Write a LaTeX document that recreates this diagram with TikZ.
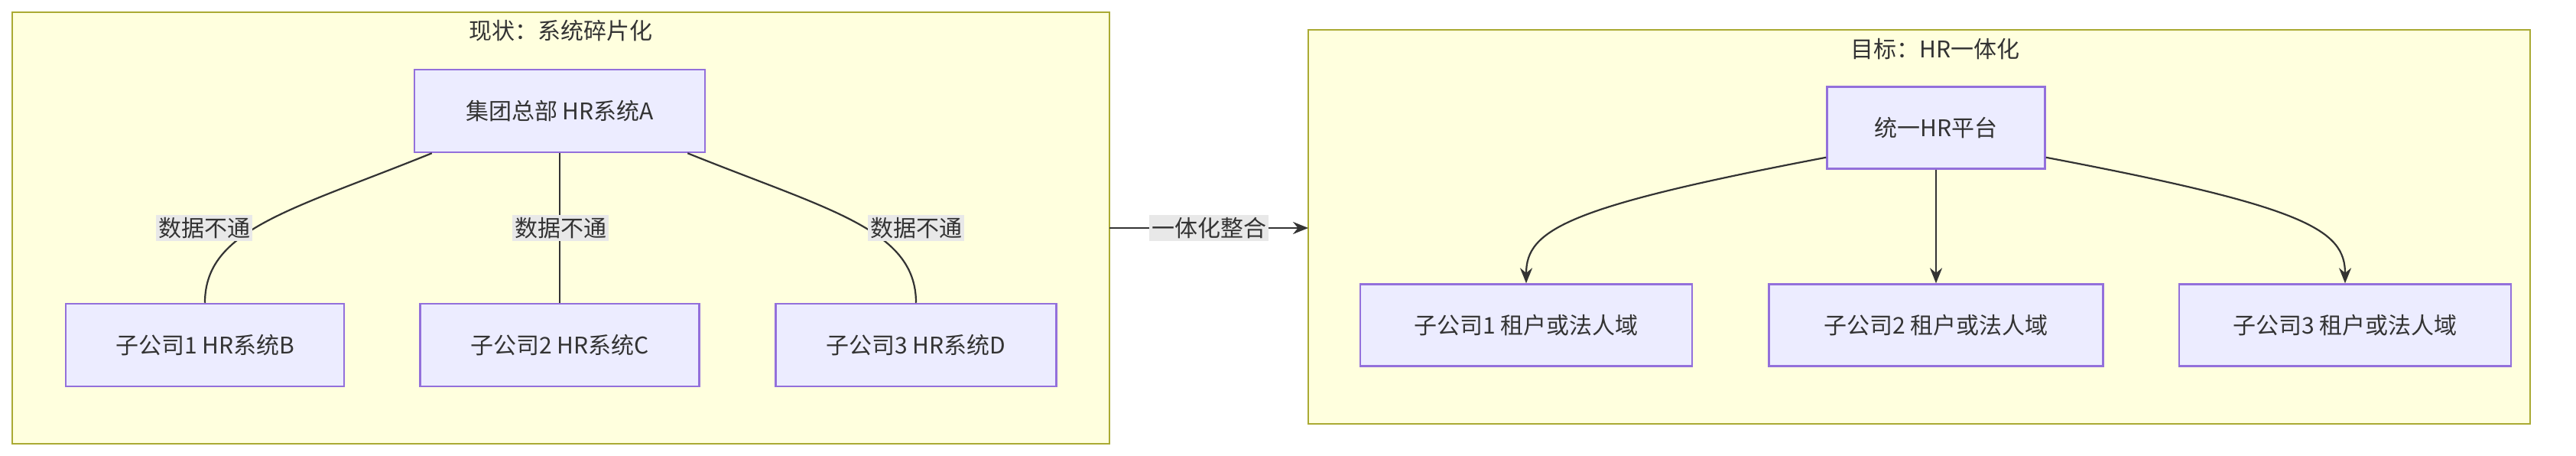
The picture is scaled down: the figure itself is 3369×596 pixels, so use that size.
\documentclass[tikz,border=0pt]{standalone}
\usepackage{fontspec}
\setmainfont{Noto Sans CJK SC}
\usetikzlibrary{arrows.meta}
\definecolor{clf}{HTML}{FFFFDE}\definecolor{cld}{HTML}{AAAA33}
\definecolor{ndf}{HTML}{ECECFF}\definecolor{ndd}{HTML}{9370DB}
\definecolor{ln}{HTML}{333333}\definecolor{lbg}{HTML}{E8E8E8}
\tikzset{
 clus/.style={draw=cld,fill=clf,line width=2.5pt},
 nd/.style={draw=ndd,fill=ndf,line width=2.5pt,font=\fontsize{30}{36}\selectfont,text=ln},
 lbl/.style={fill=lbg,font=\fontsize{30}{36}\selectfont,text=ln,inner sep=3pt},
 ttl/.style={font=\fontsize{30}{36}\selectfont,text=ln},
 con/.style={draw=ln,line width=2.2pt},
 arr/.style={con,-{Stealth[length=20pt,width=16pt]}}
}
\begin{document}
\begin{tikzpicture}[x=1pt,y=-1pt]
\useasboundingbox (0,0) rectangle (3369,596);
\draw[clus] (16,16) rectangle (1451,580);
\draw[clus] (1711,39) rectangle (3309,554);
\node[ttl] (t1) at (733,40) {现状：系统碎片化};
\node[ttl] (t2) at (2531,64) {目标：HR一体化};
\node[nd,minimum width=380pt,minimum height=108pt] (A) at (732,145) {集团总部 HR系统A};
\node[nd,minimum width=364pt,minimum height=108pt] (B) at (268,451) {子公司1 HR系统B};
\node[nd,minimum width=365pt,minimum height=108pt] (C) at (732,451) {子公司2 HR系统C};
\node[nd,minimum width=367pt,minimum height=108pt] (D) at (1198,451) {子公司3 HR系统D};
\node[nd,minimum width=285pt,minimum height=107pt] (P) at (2532,167) {统一HR平台};
\node[nd,minimum width=434pt,minimum height=107pt] (N1) at (1996,425) {子公司1 租户或法人域};
\node[nd,minimum width=437pt,minimum height=107pt] (N2) at (2532,425) {子公司2 租户或法人域};
\node[nd,minimum width=434pt,minimum height=107pt] (N3) at (3067,425) {子公司3 租户或法人域};
\draw[con] (A.south west)++(24,0) .. controls (380,275) and (268,300) .. (B.north);
\draw[con] (A.south) -- (C.north);
\draw[con] (A.south east)++(-24,0) .. controls (1085,275) and (1198,300) .. (D.north);
\node[lbl] (l1) at (267,298) {数据不通};
\node[lbl] (l2) at (733,298) {数据不通};
\node[lbl] (l3) at (1198,298) {数据不通};
\coordinate (s) at (1451,298); \coordinate (e) at (1711,298);
\draw[arr] (s) -- (e);
\node[lbl] (l4) at (1581,298) {一体化整合};
\draw[arr] (P.south west)++(0,-16) .. controls (2050,270) and (1996,300) .. (N1.north);
\draw[arr] (P.south) -- (N2.north);
\draw[arr] (P.south east)++(0,-16) .. controls (3015,270) and (3067,300) .. (N3.north);
\end{tikzpicture}
\end{document}
